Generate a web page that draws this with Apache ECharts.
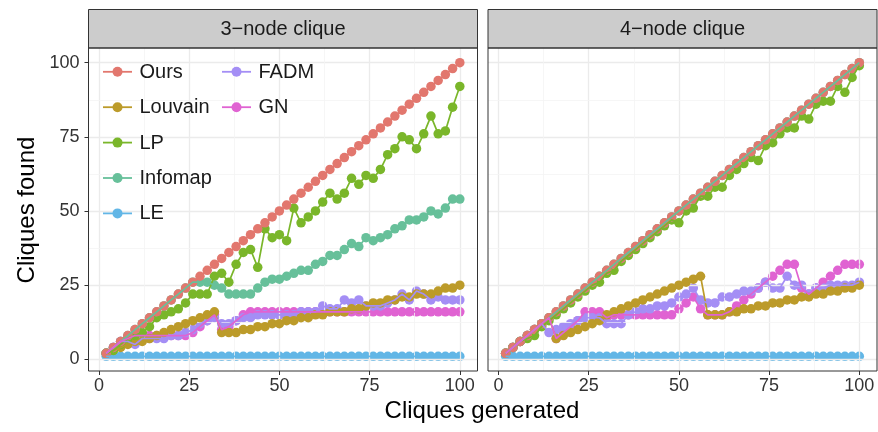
<!DOCTYPE html>
<html><head><meta charset="utf-8">
<script src="https://cdn.jsdelivr.net/npm/echarts@6.0.0/dist/echarts.min.js"></script>
<style>html,body{margin:0;padding:0;background:#fff}#c{width:878px;height:432px}</style>
</head><body><div id="c"></div>
<script>
// ---- data ----
const xs = [2,4,6,8,10,12,14,16,18,20,22,24,26,28,30,32,34,36,38,40,42,44,46,48,50,52,54,56,58,60,62,64,66,68,70,72,74,76,78,80,82,84,86,88,90,92,94,96,98,100];
const facetTitles = ['3\u2212node clique', '4\u2212node clique'];
const methods = ['Ours','Louvain','LP','Infomap','LE','FADM','GN'];
const legendCol1 = ['Ours','Louvain','LP','Infomap','LE'];
const legendCol2 = ['FADM','GN'];
const xTicks = [0,25,50,75,100];
const yTicks = [0,25,50,75,100];

// 3-node clique
const ours3    = [2,4,6,8,10,12,14,16,18,20,22,24,26,28,30,32,34,36,38,40,42,44,46,48,50,52,54,56,58,60,62,64,66,68,70,72,74,76,78,80,82,84,86,88,90,92,94,96,98,100];
const louvain3 = [2,3,4,5,6,6,7,8,9,10,11,12,13,14,15,16,9,9,9,10,10,11,11,12,12,13,13,14,14,15,15,16,16,16,17,17,18,19,19,20,20,21,21,22,22,22,23,24,24,25];
const lp3      = [2,3,5,7,8,9,11,14,15,16,17,19,22,22,22,28,29,26,32,36,37,31,44,41,42,40,51,46,48,50,53,56,54,56,61,59,62,61,64,69,71,75,74,71,76,82,76,77,85,92];
const infomap3 = [2,4,6,8,10,12,14,16,18,20,22,24,26,26,26,25,24,22,22,22,22,24,26,27,27,28,29,30,30,32,33,35,35,37,39,38,41,40,41,42,44,45,47,47,48,50,49,51,54,54];
const le3      = [1,1,1,1,1,1,1,1,1,1,1,1,1,1,1,1,1,1,1,1,1,1,1,1,1,1,1,1,1,1,1,1,1,1,1,1,1,1,1,1,1,1,1,1,1,1,1,1,1,1];
const fadm3    = [2,4,6,6,5,7,7,7,7,8,8,9,10,12,13,14,12,12,13,14,14,15,15,15,15,15,15,16,16,16,18,17,17,20,19,20,18,18,18,19,20,22,20,23,22,20,21,20,20,20];
const gn3      = [2,4,6,7,8,8,8,8,8,8,8,8,9,11,13,15,10,11,13,15,16,16,16,16,16,16,16,16,16,16,16,16,16,16,16,16,16,16,16,16,16,16,16,16,16,16,16,16,16,16];

// 4-node clique
const ours4    = [2,4,6,8,10,12,14,16,18,20,22,24,26,28,30,32,34,36,38,40,42,44,46,48,50,52,54,56,58,60,62,64,66,68,70,72,74,76,78,80,82,84,86,88,90,92,94,96,98,100];
const louvain4 = [2,4,6,8,10,12,14,7,8,9,10,11,12,13,15,16,17,18,19,20,21,22,23,24,25,26,27,28,15,15,15,16,16,17,17,18,18,19,19,20,20,21,21,22,22,23,23,24,24,25];
const lp4      = [2,4,6,7,8,11,13,15,17,19,21,23,25,26,29,30,33,35,37,39,41,43,45,47,46,50,51,55,55,58,58,62,64,66,68,67,72,73,76,78,78,82,81,86,87,87,92,90,95,99];
const infomap4 = [2,4,6,8,10,12,14,16,18,20,22,24,26,28,30,32,34,36,38,40,42,44,46,48,50,52,54,56,58,60,62,64,66,68,70,72,74,76,78,80,82,84,86,88,90,92,94,96,98,100];
const le4      = [1,1,1,1,1,1,1,1,1,1,1,1,1,1,1,1,1,1,1,1,1,1,1,1,1,1,1,1,1,1,1,1,1,1,1,1,1,1,1,1,1,1,1,1,1,1,1,1,1,1];
const fadm4    = [2,4,6,8,10,12,9,10,11,12,13,14,14,14,12,12,12,15,16,17,17,18,18,19,21,22,24,20,19,19,21,21,22,23,23,24,26,24,24,28,25,25,22,24,24,25,25,25,25,26];
const gn4      = [2,4,6,8,10,12,14,7,9,11,13,16,16,16,14,15,15,15,15,15,15,15,15,15,17,19,21,17,15,15,15,16,18,20,22,24,26,28,30,32,32,24,22,24,26,28,30,32,32,32];

const panelData = [
  {Ours: ours3, Louvain: louvain3, LP: lp3, Infomap: infomap3, LE: le3, FADM: fadm3, GN: gn3},
  {Ours: ours4, Louvain: louvain4, LP: lp4, Infomap: infomap4, LE: le4, FADM: fadm4, GN: gn4}
];

// ---- styling ----
const FONT = 'Liberation Sans, Arial, Helvetica, sans-serif';
const colors = {Ours:'#E2776E', Louvain:'#BC9B2A', LP:'#7AB62A', Infomap:'#67C09A', LE:'#62B6E6', FADM:'#A48EF5', GN:'#E063D2'};
const pointZ = {LE:2, GN:3, FADM:4, Louvain:5, LP:6, Infomap:7, Ours:8};
const gridLeft = [88.5, 488];
const gridW = 389, gridTop = 48, gridH = 323;

const series = [];
// point layer
panelData.forEach((pd, i) => {
  methods.forEach(m => {
    series.push({
      type: 'scatter', name: m, xAxisIndex: i, yAxisIndex: i,
      data: xs.map((x, k) => [x, pd[m][k]]),
      symbol: 'circle', symbolSize: 9.5, silent: true,
      itemStyle: {color: colors[m], opacity: 1},
      z: pointZ[m], animation: false
    });
  });
});
// line layer (drawn above all points)
panelData.forEach((pd, i) => {
  methods.forEach(m => {
    series.push({
      type: 'line', name: m, xAxisIndex: i, yAxisIndex: i,
      data: xs.map((x, k) => [x, pd[m][k]]),
      showSymbol: false, symbol: 'none', silent: true,
      lineStyle: {color: colors[m], width: 1.7},
      itemStyle: {color: colors[m]},
      z: 20, animation: false
    });
  });
});
// grid lines (major + minor) through the axes
[0,1].forEach(i => {
  const major = {color: '#EBEBEB', width: 1.3, type: 'solid'};
  const minor = {color: '#F4F4F4', width: 0.8, type: 'solid'};
  const md = [];
  xTicks.forEach(v => md.push({xAxis: v, lineStyle: major}));
  yTicks.forEach(v => md.push({yAxis: v, lineStyle: major}));
  [12.5,37.5,62.5,87.5].forEach(v => { md.push({xAxis: v, lineStyle: minor}); md.push({yAxis: v, lineStyle: minor}); });
  series.push({
    type: 'line', name: '_grid' + i, xAxisIndex: i, yAxisIndex: i, data: [], z: 1, silent: true,
    markLine: {silent: true, symbol: ['none','none'], label: {show: false}, animation: false, data: md}
  });
});

// legend keys (line + dot + label), laid out in two columns inside the left panel
const legendGraphics = [];
function addLegendColumn(names, x0, y0, pitch) {
  names.forEach((n, r) => {
    const y = y0 + r * pitch;
    legendGraphics.push({type: 'line', z: 45, silent: true, shape: {x1: x0, y1: y, x2: x0 + 29, y2: y}, style: {stroke: colors[n], lineWidth: 1.8}});
    legendGraphics.push({type: 'circle', z: 46, silent: true, shape: {cx: x0 + 14.5, cy: y, r: 5}, style: {fill: colors[n]}});
    legendGraphics.push({type: 'text', z: 46, silent: true, x: x0 + 36.5, y: y + 0.5, style: {text: n, align: 'left', verticalAlign: 'middle', fontSize: 20, fontFamily: FONT, fill: '#1a1a1a'}});
  });
}
addLegendColumn(legendCol1, 103, 71.8, 35.4);
addLegendColumn(legendCol2, 222, 71.8, 35.4);

const option = {
  animation: false,
  backgroundColor: '#ffffff',
  grid: [0,1].map(i => ({left: gridLeft[i], top: gridTop, width: gridW, height: gridH,
    show: true, borderColor: '#333333', borderWidth: 1, backgroundColor: 'transparent', z: 50})),
  xAxis: [0,1].map(i => ({
    type: 'value', gridIndex: i, min: -2.9, max: 104.9,
    axisLine: {show: false, onZero: false},
    axisTick: {show: true, length: 4, lineStyle: {color: '#333333', width: 1}, customValues: xTicks},
    axisLabel: {customValues: xTicks, fontSize: 18, color: '#333333', margin: 6, fontFamily: FONT},
    splitLine: {show: false}
  })),
  yAxis: [0,1].map(i => ({
    type: 'value', gridIndex: i, min: -3.95, max: 104.95,
    axisLine: {show: false, onZero: false},
    axisTick: {show: i === 0, length: 4, lineStyle: {color: '#333333', width: 1}, customValues: yTicks},
    axisLabel: {show: i === 0, customValues: yTicks, fontSize: 18, color: '#333333', margin: 9, fontFamily: FONT},
    splitLine: {show: false}
  })),
  graphic: [
    {type: 'rect', shape: {x: gridLeft[0], y: 9.5, width: gridW, height: gridTop - 9.5}, style: {fill: '#CCCCCC', stroke: '#333333', lineWidth: 1}, z: 40},
    {type: 'rect', shape: {x: gridLeft[1], y: 9.5, width: gridW, height: gridTop - 9.5}, style: {fill: '#CCCCCC', stroke: '#333333', lineWidth: 1}, z: 40},
    {type: 'text', x: gridLeft[0] + gridW / 2, y: 29, z: 41, style: {text: facetTitles[0], align: 'center', verticalAlign: 'middle', fontSize: 20, fontFamily: FONT, fill: '#1a1a1a'}},
    {type: 'text', x: gridLeft[1] + gridW / 2, y: 29, z: 41, style: {text: facetTitles[1], align: 'center', verticalAlign: 'middle', fontSize: 20, fontFamily: FONT, fill: '#1a1a1a'}},
    {type: 'text', x: 482, y: 411, z: 41, style: {text: 'Cliques generated', align: 'center', verticalAlign: 'middle', fontSize: 24, fontFamily: FONT, fill: '#000000'}},
    {type: 'text', x: 27, y: 210, rotation: Math.PI / 2, z: 41, style: {text: 'Cliques found', align: 'center', verticalAlign: 'middle', fontSize: 24, fontFamily: FONT, fill: '#000000'}}
  ].concat(legendGraphics),
  series: series
};

const chart = echarts.init(document.getElementById('c'), null, {renderer: 'canvas'});
chart.setOption(option);
</script>
</body></html>
